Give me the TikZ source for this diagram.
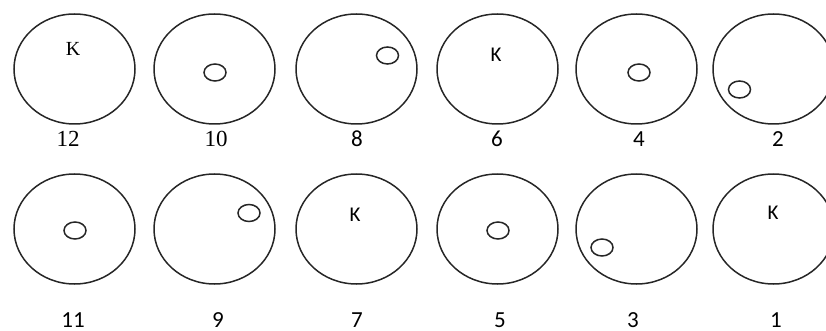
\documentclass[tikz,border=0pt]{standalone}
\usepackage{fontspec}
\setmainfont{Carlito}
\newfontfamily\cambfont{Liberation Serif}
\usetikzlibrary{shapes.geometric}
\begin{document}
\begin{tikzpicture}[x=1pt,y=-1pt,
  big/.style={draw=black!85, line width=1.5pt, ellipse, minimum width=121pt, minimum height=110pt, inner sep=0pt},
  small/.style={draw=black!85, line width=1.5pt, ellipse, minimum width=22pt, minimum height=17pt, inner sep=0pt},
  lbl/.style={font=\fontsize{23}{23}\selectfont, text=black, inner sep=0pt, text height=14.5pt, text depth=0pt},
  slbl/.style={font=\cambfont\fontsize{23}{23}\selectfont, text=black, inner sep=0pt, text height=15pt, text depth=0pt},
  kk/.style={font=\fontsize{21}{21}\selectfont, text=black, inner sep=0pt, text height=13.5pt, text depth=0pt},
  skk/.style={font=\cambfont\fontsize{20}{20}\selectfont, text=black, inner sep=0pt, text height=13.5pt, text depth=0pt}]
\useasboundingbox (0,0) rectangle (826,331);
\begin{scope}
\clip (0,0) rectangle (826,331);
% top row
\node[big] (e12) at (74.5,69) {};
\node[big] (e10) at (214.5,69) {};
\node[big] (e8) at (356.5,69) {};
\node[big] (e6) at (497.5,69) {};
\node[big] (e4) at (636.5,69) {};
\node[big] (e2) at (773.5,69) {};
% bottom row
\node[big] (e11) at (74.5,229) {};
\node[big] (e9) at (214.5,229) {};
\node[big] (e7) at (356.5,229) {};
\node[big] (e5) at (497.5,229) {};
\node[big] (e3) at (636.5,229) {};
\node[big] (e1) at (773.5,229) {};
\end{scope}
% inner marks
\node[skk] (k12) at (73,49) {K};
\node[small] (s10) at (215,72.5) {};
\node[small] (s8) at (387.5,55.5) {};
\node[kk] (k6) at (496,55) {K};
\node[small] (s4) at (639,72.5) {};
\node[small] (s2) at (739.5,89.5) {};
\node[small] (s11) at (75,230.5) {};
\node[small] (s9) at (249,213) {};
\node[kk] (k7) at (355,215) {K};
\node[small] (s5) at (498,230.5) {};
\node[small] (s3) at (602,247.5) {};
\node[kk] (k1) at (773,213) {K};
% labels
\node[slbl] (l12) at (68,139) {12};
\node[slbl] (l10) at (216,139) {10};
\node[lbl] (l8) at (357,139) {8};
\node[lbl] (l6) at (497,139) {6};
\node[lbl] (l4) at (639,139) {4};
\node[lbl] (l2) at (778,139) {2};
\node[lbl] (l11) at (73,320) {11};
\node[lbl] (l9) at (218,320) {9};
\node[lbl] (l7) at (357,320) {7};
\node[lbl] (l5) at (500,320) {5};
\node[lbl] (l3) at (633,320) {3};
\node[lbl] (l1) at (776,320) {1};
\end{tikzpicture}
\end{document}
